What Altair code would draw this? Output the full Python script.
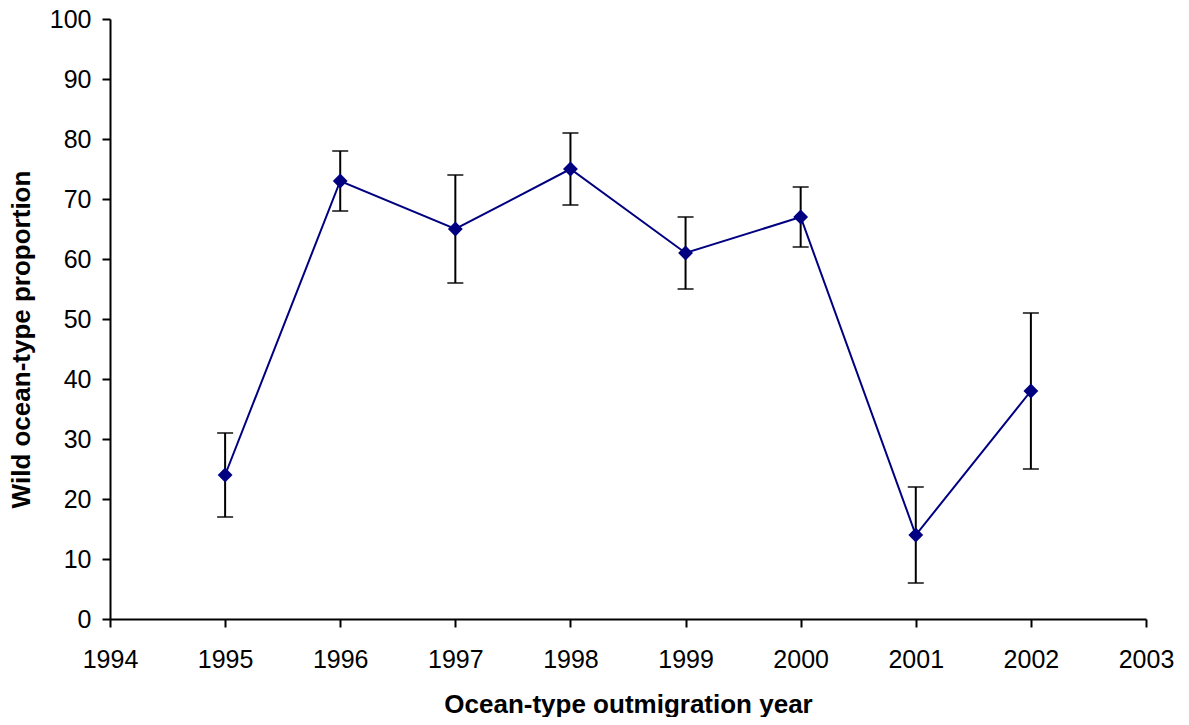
import altair as alt
import pandas as pd

years = [1995, 1996, 1997, 1998, 1999, 2000, 2001, 2002]
proportion = [24, 73, 65, 75, 61, 67, 14, 38]
upper = [31, 78, 74, 81, 67, 72, 22, 51]
lower = [17, 68, 56, 69, 55, 62, 6, 25]

df = pd.DataFrame({"year": years, "p": proportion, "hi": upper, "lo": lower})

FONT = "Liberation Sans"

x = alt.X(
    "year:Q",
    scale=alt.Scale(domain=[1994, 2003], nice=False, zero=False),
    axis=alt.Axis(
        title="Ocean-type outmigration year",
        values=list(range(1994, 2004)),
        format="d",
        grid=False,
        domainColor="black",
        domainWidth=2,
        tickColor="black",
        tickWidth=2,
        tickSize=8,
        labelFont=FONT,
        labelFontSize=25,
        labelColor="black",
        labelBaseline="alphabetic",
        labelPadding=40,
        labelFlush=False,
        labelOverlap=False,
        titleFont=FONT,
        titleFontSize=26,
        titleFontWeight="bold",
        titleColor="black",
        titleBaseline="alphabetic",
        titleY=93,
    ),
)

y = alt.Y(
    "p:Q",
    scale=alt.Scale(domain=[0, 100], nice=False),
    axis=alt.Axis(
        title="Wild ocean-type proportion",
        values=list(range(0, 101, 10)),
        grid=False,
        domainColor="black",
        domainWidth=2,
        tickColor="black",
        tickWidth=2,
        tickSize=8,
        labelFont=FONT,
        labelFontSize=25,
        labelColor="black",
        labelPadding=11,
        labelFlush=False,
        labelOverlap=False,
        titleFont=FONT,
        titleFontSize=26,
        titleFontWeight="bold",
        titleColor="black",
        titleAngle=-90,
        titleBaseline="bottom",
        titleAlign="center",
        titleX=-76,
        titleY=320,
    ),
)

base = alt.Chart(df)

bars = base.mark_rule(color="black", strokeWidth=2).encode(
    x=x, y=alt.Y("lo:Q"), y2="hi:Q"
)
cap_hi = base.mark_tick(color="black", orient="horizontal", size=16, thickness=2).encode(
    x="year:Q", y="hi:Q"
)
cap_lo = base.mark_tick(color="black", orient="horizontal", size=16, thickness=2).encode(
    x="year:Q", y="lo:Q"
)
line = base.mark_line(color="#000080", strokeWidth=2).encode(x="year:Q", y=y)
pts = base.mark_point(
    shape="diamond", filled=True, color="#000080", size=220, opacity=1
).encode(x="year:Q", y="p:Q")

chart = (
    alt.layer(bars, cap_hi, cap_lo, line, pts)
    .properties(
        width=1036,
        height=600,
        autosize=alt.AutoSizeParams(type="none"),
        padding={"left": 102, "top": 11, "right": 35, "bottom": 98},
        background="white",
    )
    .configure_view(stroke=None)
)

chart.save("out.html", embed_options={"renderer": "svg", "actions": False})
